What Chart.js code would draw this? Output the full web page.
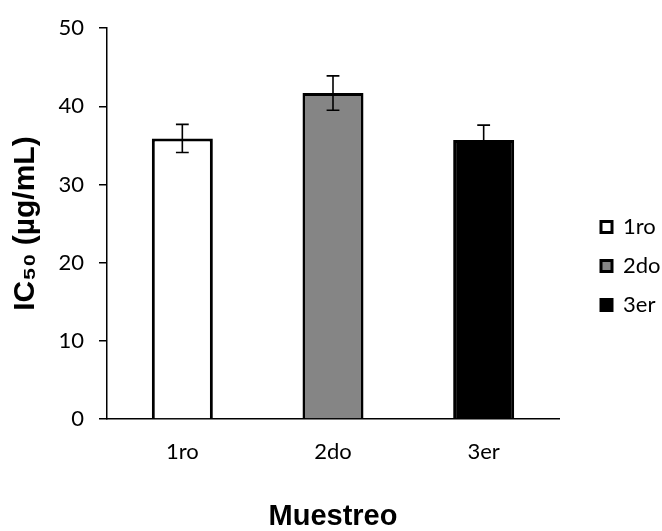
<!DOCTYPE html>
<html>
<head>
<meta charset="utf-8">
<style>
  html, body { margin: 0; padding: 0; background: #ffffff; }
  #wrap { width: 662px; height: 531px; }
</style>
<script src="https://cdn.jsdelivr.net/npm/chart.js@4.4.1/dist/chart.umd.min.js"></script>
</head>
<body>
<div id="wrap"><canvas id="c" width="662" height="531"></canvas></div>
<script>
// ---- data ----
const categories = ['1ro', '2do', '3er'];
const ic50Values = [35.9, 41.7, 35.7];
const ic50Errors = [1.8, 2.2, 1.9];
const yTickValues = [0, 10, 20, 30, 40, 50];
const barColors = ['#ffffff', '#858585', '#000000'];
const yTitle = 'IC\u2085\u2080 (\u00B5g/mL)';
const xTitle = 'Muestreo';

const errorBarPlugin = {
  id: 'errorBars',
  afterDatasetsDraw(chart) {
    const ctx = chart.ctx;
    const y = chart.scales.y;
    const meta = chart.getDatasetMeta(0);
    ctx.save();
    ctx.strokeStyle = '#000000';
    ctx.lineWidth = 1.6;
    meta.data.forEach((bar, i) => {
      const v = ic50Values[i], e = ic50Errors[i];
      const yt = y.getPixelForValue(v + e);
      const yb = y.getPixelForValue(v - e);
      const hw = bar.width * 0.105;
      ctx.beginPath();
      ctx.moveTo(bar.x, yt); ctx.lineTo(bar.x, yb);
      ctx.moveTo(bar.x - hw, yt); ctx.lineTo(bar.x + hw, yt);
      ctx.moveTo(bar.x - hw, yb); ctx.lineTo(bar.x + hw, yb);
      ctx.stroke();
    });
    ctx.restore();
  }
};

const tickFont = { family: 'Lato, "Open Sans", sans-serif', size: 22 };
const titleFamily = '"Liberation Sans", Arial, "DejaVu Sans", sans-serif';

new Chart(document.getElementById('c'), {
  type: 'bar',
  data: {
    labels: categories,
    datasets: [{
      label: 'IC50',
      data: ic50Values,
      backgroundColor: barColors,
      borderColor: '#000000',
      borderWidth: 3,
      categoryPercentage: 1,
      barPercentage: 0.405
    }]
  },
  options: {
    responsive: false,
    animation: false,
    devicePixelRatio: 1,
    layout: { padding: { top: 24, right: 0, bottom: 0, left: 0 } },
    scales: {
      x: {
        grid: { display: false, drawTicks: false },
        border: { display: true, color: '#000000', width: 1.5 },
        ticks: { color: '#000000', font: tickFont, padding: 20 },
        title: {
          display: true, text: xTitle, color: '#000000',
          font: { family: titleFamily, size: 29, weight: 'bold', lineHeight: 1 },
          padding: { top: 0, bottom: 0 }
        },
        afterFit(s) { s.height = 112; }
      },
      y: {
        min: 0, max: 50,
        afterBuildTicks(s) { s.ticks = yTickValues.map(v => ({ value: v })); },
        grid: { display: true, drawOnChartArea: false, drawTicks: true, tickLength: 8, color: '#000000', lineWidth: 1.5 },
        border: { display: true, color: '#000000', width: 1.5 },
        ticks: { color: '#000000', font: tickFont, padding: 15 },
        title: {
          display: true, text: yTitle, color: '#000000',
          font: { family: titleFamily, size: 30, weight: 'bold', lineHeight: 1 },
          padding: { top: 11, bottom: 0 }
        },
        afterFit(s) { s.width = 107; }
      },
      pad: {
        type: 'linear', position: 'right', display: true,
        grid: { display: false, drawTicks: false },
        border: { display: false },
        ticks: { display: false },
        afterFit(s) { s.width = 25; }
      }
    },
    plugins: {
      legend: {
        position: 'right',
        fullSize: false,
        align: 'center',
        maxWidth: 78,
        title: { display: true, text: '', font: { size: 10, lineHeight: 1 }, padding: { top: 75, bottom: 0 } },
        labels: {
          color: '#000000',
          font: tickFont,
          boxWidth: 11,
          boxHeight: 11,
          padding: 17,
          generateLabels() {
            return categories.map((c, i) => ({
              text: c,
              fillStyle: barColors[i],
              strokeStyle: '#000000',
              lineWidth: 3,
              hidden: false,
              index: i,
              datasetIndex: 0,
              fontColor: '#000000'
            }));
          }
        }
      },
      tooltip: { enabled: false }
    }
  },
  plugins: [errorBarPlugin]
});
</script>
</body>
</html>
